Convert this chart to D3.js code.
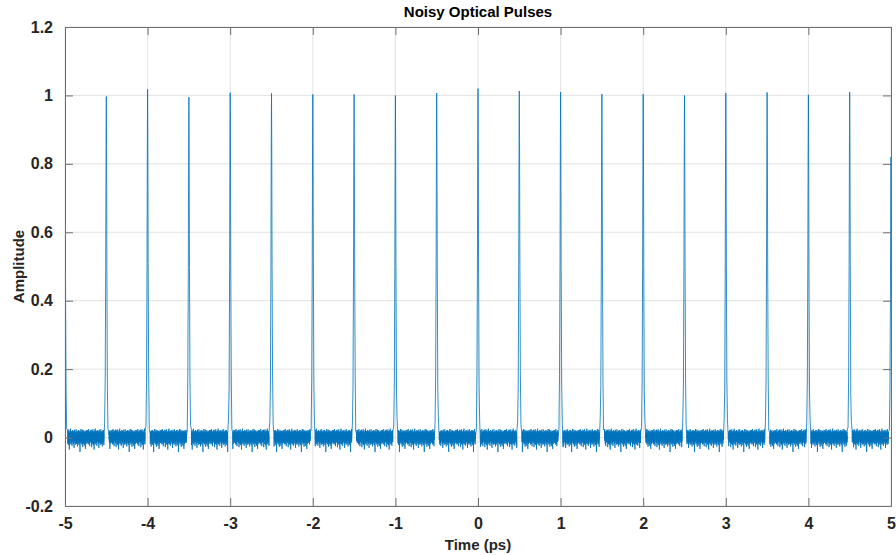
<!DOCTYPE html>
<html>
<head>
<meta charset="utf-8">
<script src="https://cdn.jsdelivr.net/npm/d3@7"></script>
<style>
  body { margin: 0; background: #fff; }
  svg { display: block; font-family: Arial, "Liberation Sans", sans-serif; }
  .tick-label { font-size: 16px; font-weight: bold; fill: #262626; }
</style>
</head>
<body>
<div id="chart"></div>
<script>
// Pulse centres (ps) and peak amplitudes
const pulseTimes = [-5, -4.5, -4, -3.5, -3, -2.5, -2, -1.5, -1, -0.5, 0, 0.5, 1, 1.5, 2, 2.5, 3, 3.5, 4, 4.5, 5];
const pulsePeaks = [0.86, 0.997, 1.018, 0.995, 1.008, 1.006, 1.003, 1.003, 1.0, 1.007, 1.02, 1.013, 1.01, 1.004, 1.004, 1.0, 1.007, 1.009, 1.002, 1.01, 0.82];

// Pulse profile: offset from centre (ps) and relative height
const profileOffsets = [-0.03, -0.02, -0.013, -0.007, -0.003, 0, 0.003, 0.007, 0.013, 0.02, 0.03];
const profileLevels = [0.0, 0.04, 0.16, 0.5, 0.86, 1, 0.86, 0.5, 0.16, 0.04, 0.0];

// Baseline noise samples (thousandths of amplitude), repeated along the gaps
const noiseSamples = [5,-12,18,3,-8,22,-15,9,1,-20,14,6,-4,25,-10,2,17,-18,8,-3,12,-25,6,19,-7,0,15,-13,21,-2,
  -9,11,4,-16,23,-5,7,-28,16,2,-11,20,-6,13,-1,-19,10,24,-14,3,8,-22,18,-4,1,15,-9,-35,12,6,
  -3,21,-17,9,4,-12,26,-8,0,14,-20,7,17,-6,-2,19,-15,11,3,-24,16,5,-10,22,-1,8,-13,13,20,-7,
  2,-18,15,10,-5,-30,18,6,-9,23,-3,12,-16,4,17,-11,9,-21,14,1,-6,24,-14,7,-2,11,-19,16,5,-8,
  19,-12,3,-26,13,9,-4,21,-10,6,15,-17,0,22,-7,10,-22,8,18,-3,-13,16,4,-42,12,20,-9,7,-15,14,
  -1,25,-11,5,-6,17,-20,9,13,-4,2,-16,23,-8,11,-27,15,3,-2,19,-12,6,-18,21,0,10,-7,14,-24,8,
  16,-5,4,-14,20,-9,12,-33,7,18,-3,9,-19,15,1,-10,22,-6,13,-15];

const xTicks = [-5, -4, -3, -2, -1, 0, 1, 2, 3, 4, 5];
const yTicks = [-0.2, 0, 0.2, 0.4, 0.6, 0.8, 1, 1.2];

const sampleStep = 0.0015;

function buildSeries() {
  const pts = [];
  let k = 0;
  pulseTimes.forEach((t0, i) => {
    // pulse shape (noise only on its foot)
    profileOffsets.forEach((o, j) => {
      const n = profileLevels[j] < 0.2 ? noiseSamples[(k++) % noiseSamples.length] / 1000 : 0;
      pts.push([t0 + o, pulsePeaks[i] * profileLevels[j] + n]);
    });
    // noisy baseline up to next pulse
    if (i < pulseTimes.length - 1) {
      const start = t0 + 0.03 + sampleStep;
      const end = pulseTimes[i + 1] - 0.03;
      k += 37;
      for (let t = start; t < end; t += sampleStep) {
        pts.push([t, noiseSamples[(k++) % noiseSamples.length] / 1000]);
      }
    }
  });
  return pts;
}

function fmtY(d) {
  return d === 0 || d === 1 ? String(d) : d.toFixed(1);
}

function draw() {
  const width = 896, height = 555;
  const margin = { top: 27, right: 5, bottom: 49, left: 65 };
  const w = width - margin.left - margin.right;
  const h = height - margin.top - margin.bottom;

  const svg = d3.select('#chart').append('svg')
    .attr('width', width)
    .attr('height', height);

  const x = d3.scaleLinear().domain([-5, 5]).range([0, w]);
  const y = d3.scaleLinear().domain([-0.2, 1.2]).range([h, 0]);

  const g = svg.append('g')
    .attr('transform', `translate(${margin.left},${margin.top})`);

  svg.append('defs').append('clipPath').attr('id', 'clip')
    .append('rect').attr('width', w).attr('height', h);

  // grid
  g.selectAll('.gx').data(xTicks).join('line')
    .attr('x1', d => x(d)).attr('x2', d => x(d))
    .attr('y1', 0).attr('y2', h)
    .attr('stroke', '#e3e3e3').attr('stroke-width', 1);
  g.selectAll('.gy').data(yTicks).join('line')
    .attr('y1', d => y(d)).attr('y2', d => y(d))
    .attr('x1', 0).attr('x2', w)
    .attr('stroke', '#e3e3e3').attr('stroke-width', 1);

  // trace
  const line = d3.line().x(d => x(d[0])).y(d => y(d[1]));
  g.append('path')
    .datum(buildSeries())
    .attr('clip-path', 'url(#clip)')
    .attr('fill', 'none')
    .attr('stroke', '#0072BD')
    .attr('stroke-width', 0.8)
    .attr('d', line);

  // axes with inward ticks on all sides
  const tickLen = 8;
  const axisColor = '#6e6e6e';
  const xb = g.append('g').attr('transform', `translate(0,${h})`)
    .call(d3.axisBottom(x).tickValues(xTicks).tickSizeInner(-tickLen).tickSizeOuter(0).tickPadding(12).tickFormat(d => String(d)));
  const xt = g.append('g')
    .call(d3.axisTop(x).tickValues(xTicks).tickSizeInner(-tickLen).tickSizeOuter(0).tickFormat(''));
  const yl = g.append('g')
    .call(d3.axisLeft(y).tickValues(yTicks).tickSizeInner(-tickLen).tickSizeOuter(0).tickPadding(12).tickFormat(fmtY));
  const yr = g.append('g').attr('transform', `translate(${w},0)`)
    .call(d3.axisRight(y).tickValues(yTicks).tickSizeInner(-tickLen).tickSizeOuter(0).tickFormat(''));

  [xb, xt, yl, yr].forEach(a => {
    a.select('.domain').attr('stroke', axisColor).attr('stroke-width', 1);
    a.selectAll('.tick line').attr('stroke', axisColor).attr('stroke-width', 1);
    a.selectAll('.tick text').attr('class', 'tick-label').attr('font-size', null).attr('font-family', null);
  });
  xb.selectAll('.tick text').attr('dy', '0.71em');

  // titles
  svg.append('text')
    .attr('x', margin.left + w / 2).attr('y', 17)
    .attr('text-anchor', 'middle')
    .style('font-size', '15px').style('font-weight', 'bold').style('fill', '#000')
    .text('Noisy Optical Pulses');

  svg.append('text')
    .attr('x', margin.left + w / 2).attr('y', 550)
    .attr('text-anchor', 'middle')
    .style('font-size', '15px').style('font-weight', 'bold').style('fill', '#262626')
    .text('Time (ps)');

  svg.append('text')
    .attr('transform', `translate(24,${margin.top + h / 2}) rotate(-90)`)
    .attr('text-anchor', 'middle')
    .style('font-size', '15px').style('font-weight', 'bold').style('fill', '#262626')
    .text('Amplitude');
}

document.addEventListener('DOMContentLoaded', draw);
</script>
</body>
</html>
